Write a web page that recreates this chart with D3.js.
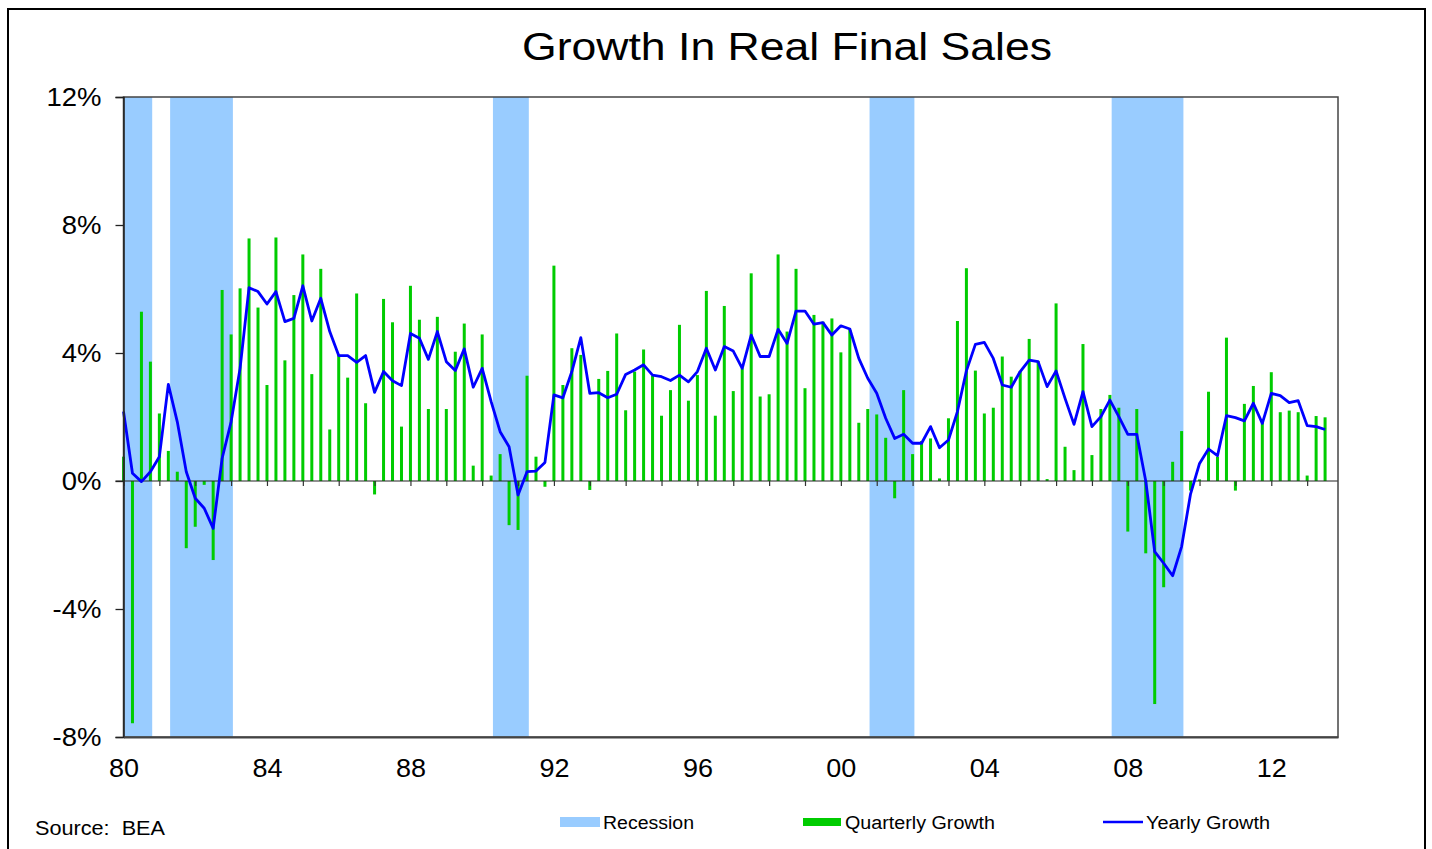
<!DOCTYPE html>
<html><head><meta charset="utf-8">
<script src="https://cdn.jsdelivr.net/npm/d3@7"></script>
<style>body{margin:0;background:#fff}svg{display:block}text{font-family:"Liberation Sans",Arial,sans-serif;fill:#000}</style>
</head><body>
<script>
const title = "Growth In Real Final Sales";
const startYear = 1980;
const quarterly = [0.76,-7.57,5.29,3.73,2.11,0.94,0.29,-2.10,-1.43,-0.12,-2.47,5.97,4.58,6.02,7.58,5.42,3.0,7.61,3.77,5.81,
7.08,3.34,6.63,1.61,3.94,3.23,5.86,2.43,-0.42,5.69,4.96,1.70,6.10,5.04,2.25,5.13,2.25,4.04,4.92,0.48,
4.58,0.17,0.84,-1.38,-1.53,3.29,0.76,-0.18,6.73,3.0,4.15,3.94,-0.28,3.19,3.44,4.61,2.21,3.42,4.11,3.29,
2.04,2.84,4.88,2.51,3.31,5.94,2.04,5.47,2.81,3.52,6.49,2.64,2.71,7.08,4.67,6.63,2.90,5.19,4.98,5.08,
4.02,4.72,1.82,2.25,2.08,1.35,-0.54,2.84,0.84,1.25,1.33,0.08,1.96,5.0,6.65,3.45,2.11,2.29,3.89,3.26,
3.44,4.44,3.75,0.06,5.55,1.07,0.34,4.28,0.81,2.25,2.69,2.29,-1.58,2.25,-2.26,-6.97,-3.32,0.60,1.56,-0.3,
0.05,2.79,0.76,4.48,-0.3,2.41,2.97,1.9,3.40,2.15,2.20,2.15,0.17,2.03,1.99];
const yearly = [2.17,0.24,-0.02,0.29,0.76,3.02,1.85,0.29,-0.54,-0.85,-1.48,0.71,1.85,3.52,6.04,5.92,5.53,5.92,4.98,5.08,
6.10,5.0,5.71,4.67,3.92,3.92,3.71,3.92,2.77,3.42,3.13,2.98,4.61,4.46,3.80,4.67,3.73,3.45,4.13,2.93,
3.52,2.48,1.54,1.07,-0.44,0.29,0.31,0.58,2.69,2.60,3.42,4.48,2.74,2.76,2.60,2.71,3.33,3.47,3.63,3.31,
3.26,3.14,3.31,3.10,3.42,4.15,3.47,4.20,4.06,3.52,4.56,3.89,3.89,4.74,4.30,5.31,5.31,4.90,4.95,4.56,
4.85,4.75,3.83,3.21,2.74,1.96,1.33,1.46,1.18,1.18,1.70,1.04,1.28,2.17,3.44,4.27,4.33,3.83,3.0,2.93,
3.42,3.78,3.73,2.95,3.44,2.58,1.77,2.79,1.70,2.01,2.53,2.01,1.46,1.46,0.0,-2.21,-2.57,-2.96,-2.05,-0.4,
0.55,1.0,0.79,2.04,1.98,1.88,2.43,1.80,2.74,2.67,2.45,2.51,1.73,1.70,1.61];
const recessions = [[1980.0,1980.8],[1981.3,1983.05],[1990.3,1991.3],[2000.8,2002.05],[2007.55,2009.55]];
const yTicks = [-8,-4,0,4,8,12];
const xLabelYears = [1980,1984,1988,1992,1996,2000,2004,2008,2012];
const legendLabels = ["Recession","Quarterly Growth","Yearly Growth"];
const source = "Source:  BEA";

const W = 1432, H = 849;
const svg = d3.select("body").append("svg").attr("width", W).attr("height", H);
svg.append("rect").attr("x",8).attr("y",9).attr("width",1417).attr("height",860)
  .attr("fill","none").attr("stroke","#000").attr("stroke-width",2);

const x = d3.scaleLinear().domain([1980, 2013.86]).range([123.5, 1338]);
const y = d3.scaleLinear().domain([-8, 12]).range([737, 97]);
const t = i => startYear + i/4;

svg.append("text").attr("x",522).attr("y",60).attr("font-size",38)
  .attr("textLength",530).attr("lengthAdjust","spacingAndGlyphs").text(title);

// recessions
svg.append("g").selectAll("rect").data(recessions).join("rect")
  .attr("x", d=>x(d[0])).attr("width", d=>x(d[1])-x(d[0]))
  .attr("y", y(12)).attr("height", y(-8)-y(12)).attr("fill","#99CCFF");

// bars
svg.append("g").selectAll("rect").data(quarterly).join("rect")
  .attr("x",(d,i)=>x(t(i))-1.5).attr("width",3)
  .attr("y",d=>y(Math.max(0,d))).attr("height",d=>Math.abs(y(d)-y(0)))
  .attr("fill","#00CC00");

// zero axis with yearly ticks
const zeroAxis = d3.axisBottom(x).tickValues(d3.range(1980,2014)).tickSize(5).tickFormat("");
const zg = svg.append("g").attr("transform",`translate(0,${y(0)})`).call(zeroAxis);
zg.select(".domain").attr("d",`M${x.range()[0]-8},0H${x.range()[1]}`).attr("stroke","#222").attr("stroke-width",1.2);
zg.selectAll(".tick line").attr("stroke","#333").attr("stroke-width",1.2);

// line
svg.append("path").datum(yearly)
  .attr("d", d3.line().x((d,i)=>x(t(i))).y(d=>y(d)))
  .attr("fill","none").attr("stroke","#0000FF").attr("stroke-width",2.8).attr("stroke-linejoin","round");

// plot frame
svg.append("rect").attr("x",x.range()[0]).attr("y",y(12)).attr("width",x.range()[1]-x.range()[0]).attr("height",y(-8)-y(12))
  .attr("fill","none").attr("stroke","#444").attr("stroke-width",1.5);

// y axis
const yAxis = d3.axisLeft(y).tickValues(yTicks).tickSize(8).tickPadding(14).tickFormat(d=>d+"%");
const yg = svg.append("g").attr("transform",`translate(${x.range()[0]},0)`).call(yAxis);
yg.select(".domain").attr("stroke","#222").attr("stroke-width",1.5);
yg.selectAll(".tick line").attr("stroke","#222").attr("stroke-width",1.3);
yg.selectAll(".tick text").attr("font-size",25).attr("font-family","Liberation Sans, Arial, sans-serif").attr("fill","#000")
  .each(function(){ const L=this.getComputedTextLength(); d3.select(this).attr("textLength",L*1.1).attr("lengthAdjust","spacingAndGlyphs"); });

// bottom axis labels
const xAxis = d3.axisBottom(x).tickValues(xLabelYears).tickSize(0).tickPadding(22)
  .tickFormat(d=>String(d%100).padStart(2,"0"));
const xg = svg.append("g").attr("transform",`translate(0,${y(-8)})`).call(xAxis);
xg.select(".domain").attr("stroke","#444").attr("stroke-width",2);
xg.selectAll(".tick text").attr("font-size",25).attr("font-family","Liberation Sans, Arial, sans-serif").attr("fill","#000")
  .each(function(){ const L=this.getComputedTextLength(); d3.select(this).attr("textLength",L*1.08).attr("lengthAdjust","spacingAndGlyphs"); });

// legend
const lg = svg.append("g");
lg.append("rect").attr("x",560).attr("y",817).attr("width",40).attr("height",10).attr("fill","#99CCFF");
lg.append("text").attr("x",603).attr("y",829).attr("font-size",18).attr("textLength",91).attr("lengthAdjust","spacingAndGlyphs").text(legendLabels[0]);
lg.append("rect").attr("x",803).attr("y",818).attr("width",38).attr("height",8).attr("fill","#00CC00");
lg.append("text").attr("x",845).attr("y",829).attr("font-size",18).attr("textLength",150).attr("lengthAdjust","spacingAndGlyphs").text(legendLabels[1]);
lg.append("line").attr("x1",1103).attr("x2",1143).attr("y1",822).attr("y2",822).attr("stroke","#0000FF").attr("stroke-width",2.5);
lg.append("text").attr("x",1146).attr("y",829).attr("font-size",18).attr("textLength",124).attr("lengthAdjust","spacingAndGlyphs").text(legendLabels[2]);

svg.append("text").attr("x",35).attr("y",835).attr("font-size",20).attr("fill","#222").style("white-space","pre")
  .attr("textLength",130).attr("lengthAdjust","spacingAndGlyphs").text(source);
</script>
</body></html>
